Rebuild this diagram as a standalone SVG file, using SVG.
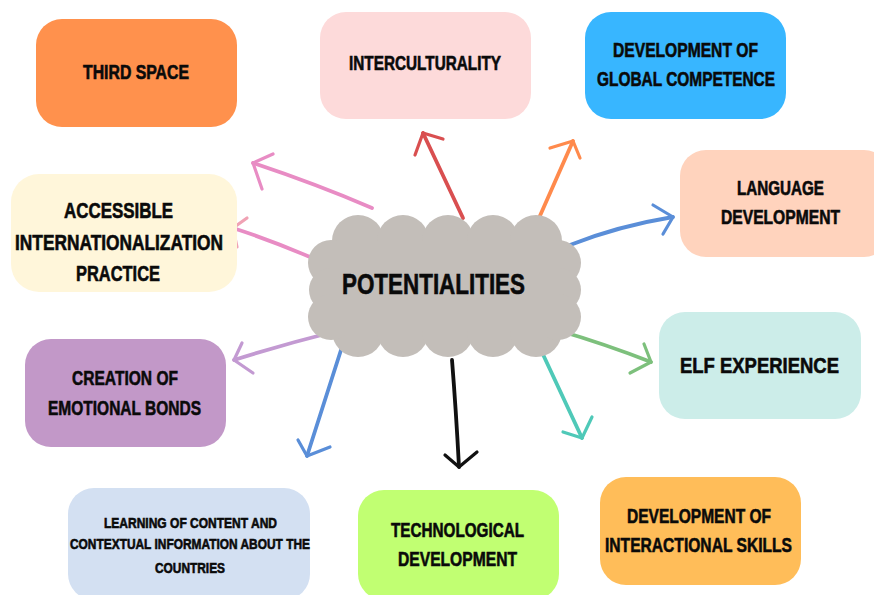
<svg xmlns="http://www.w3.org/2000/svg" width="874" height="595" viewBox="0 0 874 595">
<style>
.box{stroke:none}
.t{font-family:"Liberation Sans",Arial,sans-serif;font-weight:bold;fill:#0a0a0a;stroke:#0a0a0a;stroke-width:0.6;text-anchor:middle}
.a{fill:none;stroke-linecap:round;stroke-linejoin:round;stroke-width:3.8}
.h{fill:none;stroke-linecap:round;stroke-linejoin:round;stroke-width:3.2}
</style>
<rect width="874" height="595" fill="#ffffff"/>
<g id="connectors">
  <g id="c-third" stroke="#E88CC4"><path class="a" d="M372 208 Q316 184 253 163"/><path class="h" d="M273 154 L253 163 L262 189"/></g>
  <g id="c-access" stroke="#E88CC4"><path class="a" d="M310 257 Q270 240 233 228"/><path class="h" stroke="#F0A2B4" d="M247 218 L233 228 L237 247"/></g>
  <g id="c-inter" stroke="#D94F50"><path class="a" d="M463 218 L423 133"/><path class="h" d="M443 139 L423 133 L415 155"/></g>
  <g id="c-global" stroke="#FF8A4C"><path class="a" d="M539 218 L573 141"/><path class="h" d="M550 148 L573 141 L580 158"/></g>
  <g id="c-lang" stroke="#5A8ED8"><path class="a" d="M570 245 Q618 226 673 217"/><path class="h" d="M653 205 L673 217 L663 234"/></g>
  <g id="c-elf" stroke="#7DC07C"><path class="a" d="M557 330 Q605 344 651 362"/><path class="h" d="M644 344 L651 362 L630 373"/></g>
  <g id="c-skills" stroke="#4FC9B8"><path class="a" d="M540 348 L582 438"/><path class="h" d="M592 417 L582 438 L563 432"/></g>
  <g id="c-tech" stroke="#111111"><path class="a" d="M452 360 Q456 410 459 467"/><path class="h" d="M445 455 L459 467 L477 452"/></g>
  <g id="c-bonds" stroke="#C39AD2"><path class="a" d="M333 332 Q285 344 234 360"/><path class="h" d="M242 343 L234 360 L253 373"/></g>
  <g id="c-learn" stroke="#5A8ED8"><path class="a" d="M341 350 Q325 400 307 456"/><path class="h" d="M298 440 L307 456 L330 447"/></g>
</g>
<g id="center">
  <g fill="#C3BEB9">
    <circle cx="358" cy="241" r="26"/><circle cx="403" cy="241" r="26"/><circle cx="448" cy="241" r="26"/><circle cx="493" cy="241" r="26"/><circle cx="536" cy="241" r="26"/>
    <circle cx="358" cy="331" r="26"/><circle cx="403" cy="331" r="26"/><circle cx="448" cy="331" r="26"/><circle cx="493" cy="331" r="26"/><circle cx="536" cy="331" r="26"/>
    <circle cx="331" cy="263" r="23"/><circle cx="331" cy="290" r="22"/><circle cx="331" cy="317" r="23"/>
    <circle cx="558" cy="263" r="23"/><circle cx="559" cy="290" r="22"/><circle cx="558" cy="317" r="23"/>
    <rect x="331" y="241" width="228" height="90"/>
  </g>
  <text class="t" x="433.5" y="294" font-size="29" textLength="183" lengthAdjust="spacingAndGlyphs">POTENTIALITIES</text>
</g>
<g id="third-space">
  <rect class="box" x="36" y="19" width="201" height="108" rx="26" fill="#FF914D"/>
  <text class="t" x="136" y="79" font-size="19.5" textLength="106" lengthAdjust="spacingAndGlyphs">THIRD SPACE</text>
</g>
<g id="interculturality">
  <rect class="box" x="320" y="12" width="211" height="107" rx="26" fill="#FDDADA"/>
  <text class="t" x="425" y="70" font-size="19.5" textLength="152" lengthAdjust="spacingAndGlyphs">INTERCULTURALITY</text>
</g>
<g id="global-competence">
  <rect class="box" x="585" y="12" width="201" height="107" rx="26" fill="#38B6FF"/>
  <text class="t" x="685.5" y="56.5" font-size="20" textLength="145" lengthAdjust="spacingAndGlyphs">DEVELOPMENT OF</text>
  <text class="t" x="686" y="85.5" font-size="20" textLength="178" lengthAdjust="spacingAndGlyphs">GLOBAL COMPETENCE</text>
</g>
<g id="accessible">
  <rect class="box" x="11" y="174" width="226" height="118" rx="28" fill="#FFF6DA"/>
  <text class="t" x="118.5" y="218" font-size="22" textLength="109" lengthAdjust="spacingAndGlyphs">ACCESSIBLE</text>
  <text class="t" x="119" y="250" font-size="22" textLength="208" lengthAdjust="spacingAndGlyphs">INTERNATIONALIZATION</text>
  <text class="t" x="118" y="281" font-size="22" textLength="84" lengthAdjust="spacingAndGlyphs">PRACTICE</text>
</g>
<g id="language">
  <rect class="box" x="680" y="150" width="210" height="107" rx="26" fill="#FFD3BD"/>
  <text class="t" x="780.5" y="195" font-size="19.5" textLength="87" lengthAdjust="spacingAndGlyphs">LANGUAGE</text>
  <text class="t" x="780.5" y="224" font-size="19.5" textLength="119" lengthAdjust="spacingAndGlyphs">DEVELOPMENT</text>
</g>
<g id="elf">
  <rect class="box" x="659" y="312" width="202" height="107" rx="26" fill="#CCEDE9"/>
  <text class="t" x="759.5" y="373" font-size="22" textLength="159" lengthAdjust="spacingAndGlyphs">ELF EXPERIENCE</text>
</g>
<g id="emotional-bonds">
  <rect class="box" x="25" y="339" width="201" height="108" rx="26" fill="#C298C8"/>
  <text class="t" x="125" y="384.5" font-size="21" textLength="106" lengthAdjust="spacingAndGlyphs">CREATION OF</text>
  <text class="t" x="124.5" y="414.5" font-size="21" textLength="153" lengthAdjust="spacingAndGlyphs">EMOTIONAL BONDS</text>
</g>
<g id="learning">
  <rect class="box" x="68" y="488" width="242" height="112" rx="26" fill="#D3E0F2"/>
  <text class="t" x="190.5" y="527.5" font-size="15" textLength="173" lengthAdjust="spacingAndGlyphs">LEARNING OF CONTENT AND</text>
  <text class="t" x="190" y="548.5" font-size="15" textLength="240" lengthAdjust="spacingAndGlyphs">CONTEXTUAL INFORMATION ABOUT THE</text>
  <text class="t" x="190" y="572.5" font-size="15" textLength="70" lengthAdjust="spacingAndGlyphs">COUNTRIES</text>
</g>
<g id="technological">
  <rect class="box" x="358" y="490" width="201" height="110" rx="26" fill="#C1FF72"/>
  <text class="t" x="457.5" y="537" font-size="20" textLength="133" lengthAdjust="spacingAndGlyphs">TECHNOLOGICAL</text>
  <text class="t" x="457.5" y="566" font-size="20" textLength="119" lengthAdjust="spacingAndGlyphs">DEVELOPMENT</text>
</g>
<g id="interactional">
  <rect class="box" x="600" y="477" width="201" height="108" rx="26" fill="#FFBD59"/>
  <text class="t" x="699" y="522.5" font-size="21" textLength="144" lengthAdjust="spacingAndGlyphs">DEVELOPMENT OF</text>
  <text class="t" x="698.5" y="551.5" font-size="21" textLength="187" lengthAdjust="spacingAndGlyphs">INTERACTIONAL SKILLS</text>
</g>
</svg>
